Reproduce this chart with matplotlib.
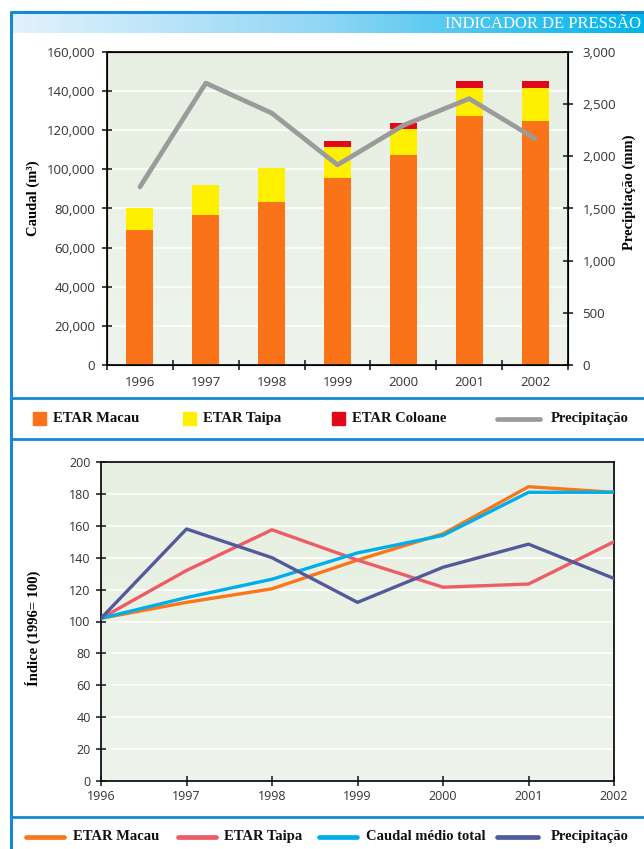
import numpy as np
import matplotlib
matplotlib.use("Agg")
import matplotlib.pyplot as plt
from matplotlib.patches import Rectangle
from matplotlib.colors import LinearSegmentedColormap

# ---- data -----------------------------------------------------------------
years = ["1996", "1997", "1998", "1999", "2000", "2001", "2002"]
etar_macau = [69000, 76800, 83300, 95700, 107300, 127200, 124600]
etar_taipa = [11400, 15200, 17500, 15800, 13400, 14300, 16900]
etar_coloane = [0, 0, 0, 2900, 3100, 3700, 3700]
precipitacao = [1707, 2702, 2415, 1918, 2297, 2553, 2170]

idx_macau = [102, 112, 120.5, 138.5, 155, 184.5, 181]
idx_taipa = [102, 132, 157.5, 138.5, 121.5, 123.5, 150]
idx_caudal = [102, 115, 126.5, 143, 154, 181, 181]
idx_precip = [102, 158, 140, 112, 134, 148.5, 127]

caudal_ticks = [0, 20000, 40000, 60000, 80000, 100000, 120000, 140000, 160000]
precip_ticks = [0, 500, 1000, 1500, 2000, 2500, 3000]
index_ticks = list(range(0, 201, 20))

# ---- style ----------------------------------------------------------------
W, H = 644, 849
DPI = 100
C_ORANGE = "#fb7318"
C_YELLOW = "#fff000"
C_RED = "#e2081a"
C_GRAY = "#9b9b9b"
L_MACAU = "#f9761b"
L_TAIPA = "#ee5c66"
L_CAUDAL = "#00aee9"
L_PRECIP = "#535a9b"
BLUE = "#1689d6"
TICK_C = "#333333"
SANS = ["Open Sans", "DejaVu Sans"]
SERIF = ["Liberation Serif", "DejaVu Serif"]

fig = plt.figure(figsize=(W / DPI, H / DPI), dpi=DPI)
fig.patch.set_facecolor("white")


def px_axes(x0, y0, x1, y1, **kw):
    """Axes placed by pixel box (top-left origin)."""
    return fig.add_axes([x0 / W, 1 - y1 / H, (x1 - x0) / W, (y1 - y0) / H], **kw)


# pale green plot backdrop, a touch lighter towards the bottom
bg_cmap = LinearSegmentedColormap.from_list("bg", ["#e6efe1", "#eef4eb"])


def paint_backdrop(a):
    a.set_facecolor("#eaf1e6")
    a.imshow(np.linspace(0, 1, 64).reshape(-1, 1), cmap=bg_cmap, aspect="auto",
             extent=[0, 1, 0, 1], transform=a.transAxes, zorder=0, origin="upper")


# ---- page frame, header and legends (pixel overlay) -------------------------
frame = px_axes(0, 0, W, H)
frame.set_xlim(0, W)
frame.set_ylim(H, 0)
frame.axis("off")

grad = np.linspace(0, 1, 256).reshape(1, -1)
cmap = LinearSegmentedColormap.from_list("hdr", ["#e3f2fc", "#8fd6f5", "#00b4ea"])
frame.imshow(grad, cmap=cmap, extent=[12, W, 33, 13], aspect="auto", zorder=1)
frame.plot([10, W], [12, 12], color=BLUE, lw=2.2, solid_capstyle="butt", zorder=2)
frame.plot([11, 11], [11, H], color=BLUE, lw=2.2, solid_capstyle="butt", zorder=2)
for yy in (398, 439, 817):
    frame.plot([11, W], [yy, yy], color=BLUE, lw=2.0, solid_capstyle="butt", zorder=2)
frame.text(W - 3, 24, "INDICADOR DE PRESSÃO", color="white", fontsize=12,
           family=SERIF, va="center", ha="right", zorder=3)

LEG_FS = 10.5
# legend of the bar chart
ly = 418.5
for x0, col, lab in ((33, C_ORANGE, "ETAR Macau"), (183, C_YELLOW, "ETAR Taipa"),
                     (332, C_RED, "ETAR Coloane")):
    frame.add_patch(Rectangle((x0, ly - 6.5), 13, 13, color=col, zorder=3))
    frame.text(x0 + 20, ly, lab, fontsize=LEG_FS, family=SERIF, weight="bold",
               va="center", ha="left", color="#111111")
frame.plot([497, 540], [ly, ly], color=C_GRAY, lw=3.4, solid_capstyle="round")
frame.text(551, ly, "Precipitação", fontsize=LEG_FS, family=SERIF, weight="bold",
           va="center", ha="left", color="#111111")

# legend of the index chart
ly2 = 836.5
for x0, x1, xt, col, lab in ((26, 64, 73, L_MACAU, "ETAR Macau"),
                             (178, 216, 224, L_TAIPA, "ETAR Taipa"),
                             (319, 357, 366, L_CAUDAL, "Caudal médio total"),
                             (497, 538, 551, L_PRECIP, "Precipitação")):
    frame.plot([x0, x1], [ly2, ly2], color=col, lw=3.4, solid_capstyle="round")
    frame.text(xt, ly2, lab, fontsize=LEG_FS, family=SERIF, weight="bold",
               va="center", ha="left", color="#111111")

# axis titles
fig.text(33 / W, 1 - 198 / H, "Caudal (m³)", rotation=90, fontsize=LEG_FS,
         family=SERIF, weight="bold", ha="center", va="center")
fig.text(629 / W, 1 - 192 / H, "Precipitação (mm)", rotation=90, fontsize=LEG_FS,
         family=SERIF, weight="bold", ha="center", va="center")
fig.text(33 / W, 1 - 628 / H, "Índice (1996= 100)", rotation=90, fontsize=LEG_FS,
         family=SERIF, weight="bold", ha="center", va="center")


def style_ticks(a, fs):
    a.tick_params(which="both", direction="inout", length=7, width=1.1,
                  color="#111111", labelcolor=TICK_C, labelsize=fs)
    for lab in a.get_xticklabels(which="both") + a.get_yticklabels(which="both"):
        lab.set_family(SANS)


# ---- stacked bars with precipitation line --------------------------------
ax = px_axes(107, 52, 568, 365)
paint_backdrop(ax)
x = np.arange(len(years))
bw = 0.41
ax.bar(x, etar_macau, bw, color=C_ORANGE, zorder=2)
ax.bar(x, etar_taipa, bw, bottom=etar_macau, color=C_YELLOW, zorder=2)
base2 = np.array(etar_macau) + np.array(etar_taipa)
ax.bar(x, etar_coloane, bw, bottom=base2, color=C_RED, zorder=2)
ax.set_xlim(-0.5, len(years) - 0.5)
ax.set_ylim(0, 160000)
ax.set_yticks(caudal_ticks)
ax.set_yticklabels([f"{v:,}" for v in caudal_ticks])
ax.set_xticks(np.arange(-0.5, len(years)), labels=[""] * (len(years) + 1))
ax.set_xticks(x, labels=years, minor=True)
for t in caudal_ticks[1:-1]:
    ax.axhline(t, color="white", lw=1.2, zorder=1)
for s in ax.spines.values():
    s.set_color("#111111")
    s.set_linewidth(1.3)
style_ticks(ax, 9.5)
ax.tick_params(axis="x", which="minor", length=0, pad=8)
ax.tick_params(axis="y", pad=5)

ax2 = ax.twinx()
ax2.plot(x, precipitacao, color=C_GRAY, lw=3.4, zorder=3, solid_capstyle="round")
ax2.set_ylim(0, 3000)
ax2.set_yticks(precip_ticks)
ax2.set_yticklabels([f"{v:,}" for v in precip_ticks])
style_ticks(ax2, 9.5)
ax2.tick_params(axis="y", pad=7)

# ---- index lines ----------------------------------------------------------
bx = px_axes(101, 462, 614, 781)
paint_backdrop(bx)
yrs = np.array([int(y) for y in years])
bx.plot(yrs, idx_macau, color=L_MACAU, lw=2.4, zorder=3)
bx.plot(yrs, idx_taipa, color=L_TAIPA, lw=2.4, zorder=3)
bx.plot(yrs, idx_caudal, color=L_CAUDAL, lw=2.4, zorder=4)
bx.plot(yrs, idx_precip, color=L_PRECIP, lw=2.4, zorder=4)
bx.set_xlim(yrs[0], yrs[-1])
bx.set_ylim(0, 200)
bx.set_xticks(yrs, labels=years)
bx.set_yticks(index_ticks)
for t in index_ticks[1:-1]:
    bx.axhline(t, color="white", lw=1.2, zorder=1)
for s in bx.spines.values():
    s.set_color("#111111")
    s.set_linewidth(1.3)
style_ticks(bx, 9)
bx.tick_params(axis="x", pad=3)
bx.tick_params(axis="y", pad=4)

fig.savefig("out.png", dpi=DPI, facecolor="white")
